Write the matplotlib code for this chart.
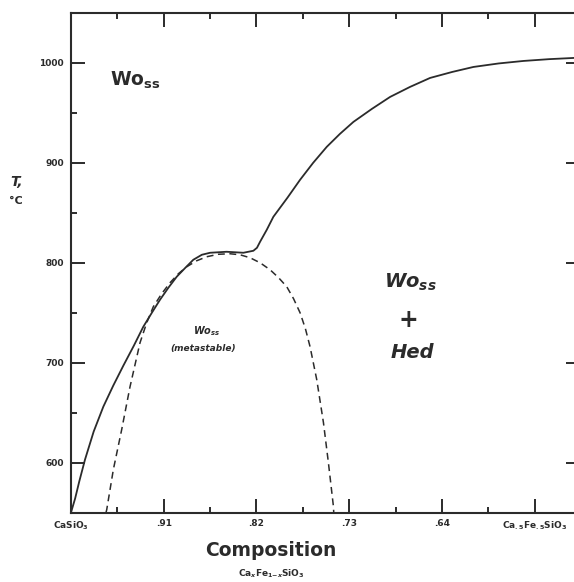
import matplotlib
matplotlib.use('Agg')
import matplotlib.pyplot as plt
from matplotlib.ticker import FixedLocator

# Mathtext in bold DejaVu so labels look like the lettering on the original
plt.rcParams['font.family'] = 'DejaVu Sans'
plt.rcParams['mathtext.fontset'] = 'custom'
plt.rcParams['mathtext.rm'] = 'DejaVu Sans:bold'
plt.rcParams['mathtext.it'] = 'DejaVu Sans:bold:italic'
plt.rcParams['mathtext.bf'] = 'DejaVu Sans:bold'

INK = '#2b2b2b'

# Stable boundary (solid): composition x in CaxFe1-xSiO3, temperature in C
solid_comp = [1.000, 0.996, 0.992, 0.9864, 0.978, 0.9686, 0.959, 0.9492, 0.939,
              0.9298, 0.9215, 0.9136, 0.9055, 0.8974, 0.889, 0.8813, 0.873, 0.8650,
              0.8490, 0.8327, 0.8230, 0.8195, 0.8165, 0.810, 0.8036, 0.790, 0.7777,
              0.765, 0.7518, 0.739, 0.7259, 0.708, 0.6903, 0.671, 0.6515, 0.630,
              0.6094, 0.585, 0.5609, 0.536, 0.5123, 0.506]
solid_temp = [550, 564, 581, 603, 631, 656, 677, 697, 717,
              736, 750, 763, 775, 786, 795, 803, 808, 810,
              811, 810, 812, 815, 821, 833, 846, 865, 883,
              900, 916, 929, 941, 954, 966, 976, 985, 991,
              996, 999.5, 1002, 1003.8, 1005, 1005.5]

# Metastable boundary (dashed)
dashed_comp = [0.966, 0.9653, 0.9589, 0.9508, 0.9427, 0.9330, 0.9265, 0.9201, 0.912,
               0.9039, 0.8958, 0.8877, 0.878, 0.8683, 0.857, 0.8456, 0.836, 0.8262,
               0.8165, 0.8068, 0.7985, 0.7906, 0.784, 0.7777, 0.7725, 0.7680, 0.7615,
               0.7550, 0.7502, 0.7453, 0.745]
dashed_temp = [550, 553, 593, 633, 676, 720, 740, 756, 769,
               780, 789, 796, 802, 806, 808.5, 809, 808, 805,
               800, 793, 785, 776, 764, 750, 734, 716, 683,
               640, 600, 556, 550]

# Axis ticks
y_major = [600, 700, 800, 900, 1000]
y_minor = [650, 750, 850, 950]
x_major = [1.00, 0.91, 0.82, 0.73, 0.64, 0.55]
x_minor = [0.955, 0.865, 0.775, 0.685, 0.595, 0.505]
x_labels = [r'$\mathrm{CaSiO}_{3}$', '.91', '.82', '.73', '.64',
            r'$\mathrm{Ca}_{.5}\mathrm{Fe}_{.5}\mathrm{SiO}_{3}$']

fig = plt.figure(figsize=(5.74, 5.82), dpi=100)
fig.set_facecolor('white')
# right edge of the axes lies just past the picture, as in the scan
ax = fig.add_axes([71 / 574, 69.5 / 582, 509 / 574, 499.5 / 582])

ax.plot(solid_comp, solid_temp, color=INK, linewidth=1.3, solid_joinstyle='round', clip_on=False)
ax.plot(dashed_comp, dashed_temp, color=INK, linewidth=1.1, linestyle=(0, (4.5, 3)))

ax.set_xlim(1.0, 0.506)
ax.set_ylim(550, 1050)

# Ticks inward on all four sides, like the original
ax.xaxis.set_major_locator(FixedLocator(x_major))
ax.xaxis.set_minor_locator(FixedLocator(x_minor))
ax.yaxis.set_major_locator(FixedLocator(y_major))
ax.yaxis.set_minor_locator(FixedLocator(y_minor))
ax.set_xticklabels(x_labels)
ax.tick_params(which='both', direction='in', top=True, right=True, color=INK, width=1.4)
ax.tick_params(which='major', length=10)
ax.tick_params(which='minor', length=4.5)
ax.tick_params(axis='x', which='major', pad=5, labelsize=6.5, labelcolor=INK)
ax.tick_params(axis='y', which='major', pad=5, labelsize=6.5, labelcolor=INK)
for lab in ax.get_xticklabels() + ax.get_yticklabels():
    lab.set_fontweight('bold')

for side in ['left', 'bottom', 'top']:
    ax.spines[side].set_color(INK)
    ax.spines[side].set_linewidth(1.5)
ax.spines['right'].set_visible(False)  # cut off in the scan

# Field labels
ax.text(0.962, 983, r'$\mathrm{Wo}_{\mathrm{ss}}$', fontsize=13.5, color=INK, ha='left', va='center')
ax.text(0.671, 780, r'$Wo_{ss}$', fontsize=14, color=INK, ha='center', va='center')
ax.text(0.673, 743, '+', fontsize=17, fontweight='bold', color=INK, ha='center', va='center')
ax.text(0.669, 710, 'Hed', fontsize=14, fontweight='bold', style='italic', color=INK,
        ha='center', va='center')
ax.text(0.868, 732, r'$Wo_{ss}$', fontsize=7, color=INK, ha='center', va='center')
ax.text(0.872, 714, '(metastable)', fontsize=6.5, fontweight='bold', style='italic', color=INK,
        ha='center', va='center')

# Axis titles
fig.text(271 / 574, 1 - 550 / 582, 'Composition', fontsize=13.5, fontweight='bold', color=INK,
         ha='center', va='center')
fig.text(271 / 574, 1 - 574 / 582, r'$\mathrm{Ca}_{x}\mathrm{Fe}_{1\mathrm{-}x}\mathrm{SiO}_{3}$',
         fontsize=6.5, color=INK, ha='center', va='center')
fig.text(17 / 574, 1 - 182 / 582, 'T,', fontsize=10, fontweight='bold', style='italic',
         color=INK, ha='center', va='center')
fig.text(16 / 574, 1 - 201 / 582, '°C', fontsize=8, fontweight='bold', color=INK,
         ha='center', va='center')

fig.savefig('out.png', dpi=100, facecolor='white')
